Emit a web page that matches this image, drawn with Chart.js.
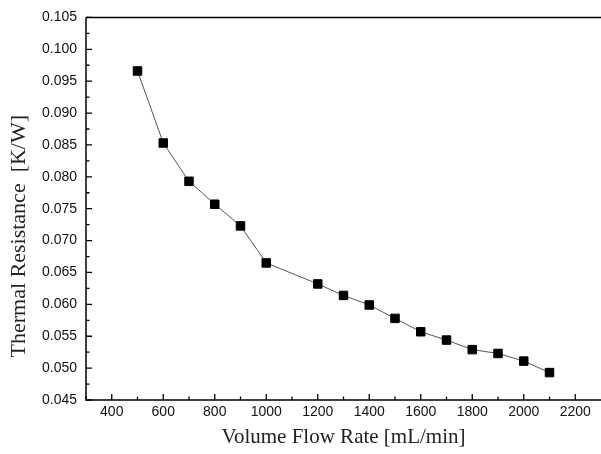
<!DOCTYPE html>
<html>
<head>
<meta charset="utf-8">
<script src="https://cdn.jsdelivr.net/npm/chart.js@4.4.1/dist/chart.umd.min.js"></script>
<style>
    html, body { margin: 0; padding: 0; background: #fff; overflow: hidden; }
    #wrap { width: 601px; height: 454px; position: relative; }
    canvas { display: block; }
</style>
</head>
<body>
<div id="wrap"><canvas id="flow-chart"></canvas></div>
<script>
var flowRates = [500, 600, 700, 800, 900, 1000, 1200, 1300, 1400, 1500, 1600, 1700, 1800, 1900, 2000, 2100];
var resistances = [0.0966, 0.0853, 0.0793, 0.0757, 0.0723, 0.0665, 0.0632, 0.0614, 0.0599, 0.0578, 0.0557, 0.0544, 0.0529, 0.0523, 0.0511, 0.0493];
var xTicks = [400, 600, 800, 1000, 1200, 1400, 1600, 1800, 2000, 2200];
var yTicks = [0.045, 0.050, 0.055, 0.060, 0.065, 0.070, 0.075, 0.080, 0.085, 0.090, 0.095, 0.100, 0.105];

// inward ticks (major + minor) and the frame, like the origin plot
const frameTicks = {
    id: 'frameTicks',
    afterDraw: function(chart) {
        const ctx = chart.ctx;
        const area = chart.chartArea;
        const xs = chart.scales.x;
        const ys = chart.scales.y;
        ctx.save();
        ctx.strokeStyle = '#000';
        ctx.lineWidth = 1.5;
        ctx.beginPath();
        ctx.moveTo(area.left, area.top);
        ctx.lineTo(area.right, area.top);
        ctx.moveTo(area.left, area.top);
        ctx.lineTo(area.left, area.bottom);
        ctx.lineTo(area.right, area.bottom);
        ctx.stroke();

        ctx.lineWidth = 1.3;
        ctx.beginPath();
        for (let i = 0; i < xTicks.length; i++) {
            let px = xs.getPixelForValue(xTicks[i]);
            ctx.moveTo(px, area.bottom);
            ctx.lineTo(px, area.bottom - 6);
            let mx = xs.getPixelForValue(xTicks[i] + 100);
            if (mx < area.right) {
                ctx.moveTo(mx, area.bottom);
                ctx.lineTo(mx, area.bottom - 3.5);
            }
        }
        let firstMinor = xs.getPixelForValue(xTicks[0] - 100);
        ctx.moveTo(firstMinor, area.bottom);
        ctx.lineTo(firstMinor, area.bottom - 3.5);

        for (let i = 0; i < yTicks.length; i++) {
            let py = ys.getPixelForValue(yTicks[i]);
            ctx.moveTo(area.left, py);
            ctx.lineTo(area.left + 6, py);
            if (i < yTicks.length - 1) {
                let my = ys.getPixelForValue(yTicks[i] + 0.0025);
                ctx.moveTo(area.left, my);
                ctx.lineTo(area.left + 3.5, my);
            }
        }
        ctx.stroke();
        ctx.restore();
    }
};

document.addEventListener('DOMContentLoaded', function() {
    const canvas = document.getElementById('flow-chart');

    var points = flowRates.map(function(v, i) {
        return { x: v, y: resistances[i] };
    });

    new Chart(canvas, {
        type: 'scatter',
        data: {
            datasets: [{
                label: 'Thermal Resistance',
                data: points,
                showLine: true,
                borderColor: '#555',
                borderWidth: 1,
                pointStyle: 'rect',
                pointRadius: 6,
                pointBorderWidth: 1,
                pointBackgroundColor: '#000',
                pointBorderColor: '#000'
            }]
        },
        options: {
            responsive: true,
            maintainAspectRatio: false,
            animation: false,
            layout: {
                autoPadding: false, // the point size otherwise eats 7px on the right
                padding: { top: 17, right: 0, left: 0, bottom: 0 }
            },
            plugins: {
                legend: { display: false },
                tooltip: { enabled: false }
            },
            scales: {
                x: {
                    type: 'linear',
                    min: 300,
                    max: 2300,
                    afterBuildTicks: function(scale) {
                        scale.ticks = xTicks.map(function(v) { return { value: v }; });
                    },
                    afterFit: function(scale) {
                        scale.height = 54;
                        scale.paddingRight = 0;
                    },
                    grid: { display: false, drawTicks: false },
                    border: { display: false },
                    ticks: {
                        padding: 4,
                        color: '#111',
                        font: { family: 'Liberation Sans', size: 14 },
                        maxRotation: 0,
                        callback: function(value) {
                            return String(value);
                        }
                    },
                    title: {
                        display: true,
                        text: 'Volume Flow Rate [mL/min]',
                        color: '#222',
                        font: { family: 'Liberation Serif', size: 21 },
                        padding: { top: 0, bottom: 4 }
                    }
                },
                y: {
                    type: 'linear',
                    min: 0.045,
                    max: 0.105,
                    afterBuildTicks: function(scale) {
                        scale.ticks = yTicks.map(function(v) { return { value: v }; });
                    },
                    afterFit: function(scale) {
                        scale.width = 86;
                    },
                    grid: { display: false, drawTicks: false },
                    border: { display: false },
                    ticks: {
                        padding: 9,
                        color: '#111',
                        font: { family: 'Liberation Sans', size: 14 },
                        callback: function(value) {
                            return value.toFixed(3);
                        }
                    },
                    title: {
                        display: true,
                        text: 'Thermal Resistance  [K/W]' + '\u00a0'.repeat(10),
                        color: '#222',
                        font: { family: 'Liberation Serif', size: 22 },
                        padding: { top: 6, bottom: 0 }
                    }
                }
            }
        },
        plugins: [frameTicks]
    });
});
</script>
</body>
</html>
